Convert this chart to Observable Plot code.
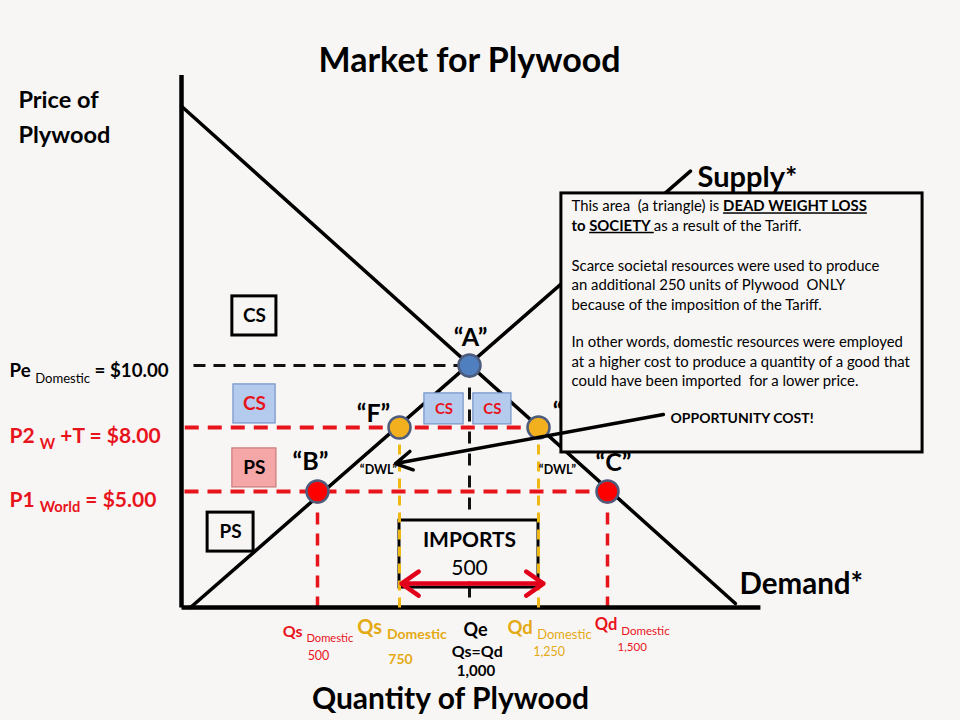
<!DOCTYPE html>
<html><head><meta charset="utf-8">
<script src="https://cdn.jsdelivr.net/npm/d3@7"></script>
<script src="https://cdn.jsdelivr.net/npm/@observablehq/plot@0.6"></script>
<style>
html,body{margin:0;padding:0;background:#f8f6f5;}
#chart svg{display:block;}
#chart text{white-space:pre;}
</style></head><body><div id="chart"></div>
<script>
// ---------------- data (quantity of plywood, price in $) ----------------
const quantityDomain = [0, 500, 750, 1000, 1250, 1500, 2000];
const priceDomain = [0, 5, 8, 10, 20];

const demandCurve = [{q: 0, p: 20.8}, {q: 1944, p: 0.17}];
const supplyCurve = [{q: 33, p: 0}, {q: 1788, p: 18.1}];
const axisQMax = 2031;
const axisPMax = 22.1;

const pointNames = ["A", "F", "G", "B", "C"];
const pointQty = [1000, 750, 1250, 500, 1500];
const pointPrice = [10, 8, 8, 5, 5];
const pointKind = ["eq", "tariff", "tariff", "world", "world"];

const priceLevels = [10, 8, 5];
const priceLevelText = ["Pe [s][n]Domestic[/n][/s] = $10.00", "P2 [s]W[/s] +T = $8.00", "P1 [s]World[/s] = $5.00"];
const priceLineFrom = [44, 12, 11];
const priceLineTo = [1000, 1250, 1500];

const qtyValues = [500, 750, 1000, 1250, 1500];
const qtyTopPrice = [5, 8, 10, 8, 5];
const qtyNames = ["Qs [s][n]Domestic[/n][/s]", "Qs [s]Domestic[/s]", "Qe", "Qd [s][n]Domestic[/n][/s]", "Qd [s][n]Domestic[/n][/s]"];
const qtyNumbers = ["500", "750", "Qs=Qd", "1,250", "1,500"];
const qeExtra = "1,000";

const boxText = ["CS", "CS", "PS", "PS", "CS", "CS"];
const boxKind = ["plain", "blue", "pink", "plain", "blue", "blue"];
const boxQ1 = [187, 191, 187, 96, 839, 1014];
const boxQ2 = [349, 346, 349, 265, 979, 1152];
const boxP1 = [11.25, 8.13, 5.19, 2.41, 8.10, 8.10];
const boxP2 = [12.88, 9.39, 7.02, 4.09, 9.10, 9.10];

const importsQ = [750, 1250];
const importsP = [0.86, 3.75];
const importsArrowP = 1.03;
const importsArrowQ = [757, 1268];
const importsText = ["IMPORTS", "500"];
const importsTextP = [2.89, 1.68];

const noteQ = [1333, 2594];
const noteP = [6.83, 17.17];
const noteLines = [
  "This area  (a triangle) is [b][u]DEAD WEIGHT LOSS[/u][/b]",
  "[b]to [u]SOCIETY [/u][/b]as a result of the Tariff.",
  "Scarce societal resources were used to produce",
  "an additional 250 units of Plywood  ONLY",
  "because of the imposition of the Tariff.",
  "In other words, domestic resources were employed",
  "at a higher cost to produce a quantity of a good that",
  "could have been imported  for a lower price."
];
const noteArrow = {q1: 1694, p1: 8.42, q2: 738, p2: 6.31};

// ---------------- styling ----------------
const FONT = "Lato, 'Open Sans', sans-serif";
const RED = "#e8141c", GOLD = "#efb814", GOLDTXT = "#e4aa14", BG = "#f8f6f5";
const dotFill = {eq: "#4f7fbe", tariff: "#f2b01e", world: "#ff0000"};
const boxFill = {plain: BG, blue: "#b5cbee", pink: "#f4a7a6"};
const boxStroke = {plain: "#000", blue: "#7394c8", pink: "#c97a7a"};

const points = pointNames.map((n, i) => ({name: n, q: pointQty[i], p: pointPrice[i], kind: pointKind[i]}));
const boxes = boxText.map((t, i) => ({t, kind: boxKind[i], q1: boxQ1[i], q2: boxQ2[i], p1: boxP1[i], p2: boxP2[i]}));
const priceRows = priceLevels.map((p, i) => ({p, text: priceLevelText[i], from: priceLineFrom[i], to: priceLineTo[i]}));
const qtyRows = qtyValues.map((q, i) => ({q, top: qtyTopPrice[i], name: qtyNames[i], num: qtyNumbers[i]}));

const pt = (text, x, y, o = {}) =>
  Plot.text([text], {text: d => d, frameAnchor: "top-left", dx: x, dy: y, textAnchor: "middle", lineAnchor: "middle",
    fontFamily: FONT, fill: "#000", ...o});

const labelStyle = [
  {c: RED, f1: 16, w1: "bold", dx1: 0.5, y1: 631.6, f2: 12.5, w2: "normal", dx2: 1, y2: 655.3},
  {c: GOLDTXT, f1: 20, w1: "bold", dx1: 2.5, y1: 627, f2: 14, w2: "bold", dx2: 1, y2: 658.8},
  {c: "#000", f1: 18, w1: "bold", dx1: 6, y1: 630, f2: 16, w2: "bold", dx2: 7.7, y2: 651.5},
  {c: GOLDTXT, f1: 18.5, w1: "bold", dx1: 11, y1: 627.3, f2: 12.5, w2: "normal", dx2: 10.7, y2: 651.2},
  {c: RED, f1: 16.5, w1: "bold", dx1: 24.7, y1: 624.7, f2: 11.5, w2: "normal", dx2: 24.7, y2: 647.2}
];
const priceStyle = [
  {c: "#000", f: 18.7, dy: 6},
  {c: RED, f: 21, dy: 9},
  {c: RED, f: 21, dy: 8.5}
];
const pointLabelOff = [[1, -28], [-26, -14], [33, -16], [-7, -30], [6, -29]];
const dwlOff = {F: [-21, 42], G: [19, 42]};
const noteLineY = [206, 225.5, 265.5, 285, 304.5, 342, 361.5, 380.5];

const marks = [
  // dashed price levels
  ...priceRows.map((r, i) => Plot.link([r], {x1: "from", x2: "to", y1: "p", y2: "p",
    stroke: i === 0 ? "#111" : RED, strokeWidth: i === 0 ? 3 : 4, strokeDasharray: i === 0 ? "12,8" : "14,9"})),
  // vertical dashed quantity guides
  Plot.link(qtyRows.filter(r => r.q === 1000), {x1: "q", x2: "q", y1: "top", y2: 0, stroke: "#111", strokeWidth: 3, strokeDasharray: "12,10"}),
  Plot.link(qtyRows.filter(r => r.q === 500 || r.q === 1500), {x1: "q", x2: "q", y1: "top", y2: 0, stroke: RED, strokeWidth: 3.5, strokeDasharray: "12,9"}),
  // axes
  Plot.link([{q: 0, p0: 0, p1: axisPMax}], {x1: "q", x2: "q", y1: "p0", y2: "p1", stroke: "#000", strokeWidth: 4.5}),
  Plot.link([{p: 0, q0: 0, q1: axisQMax}], {x1: "q0", x2: "q1", y1: "p", y2: "p", stroke: "#000", strokeWidth: 4.5}),
  // demand and supply
  Plot.line(demandCurve, {x: "q", y: "p", stroke: "#000", strokeWidth: 3.5}),
  Plot.line(supplyCurve, {x: "q", y: "p", stroke: "#000", strokeWidth: 3.5}),
  // surplus boxes
  Plot.rect(boxes, {x1: "q1", x2: "q2", y1: "p1", y2: "p2", fill: d => boxFill[d.kind], stroke: d => boxStroke[d.kind],
    strokeWidth: d => d.kind === "plain" ? 3 : 1.2}),
  Plot.text(boxes.filter(d => d.q2 - d.q1 > 150), {x: d => (d.q1 + d.q2) / 2, y: d => (d.p1 + d.p2) / 2, text: "t",
    fill: d => d.kind === "blue" ? RED : "#000", fontSize: 19, fontWeight: "bold", fontFamily: FONT}),
  Plot.text(boxes.filter(d => d.q2 - d.q1 <= 150), {x: d => (d.q1 + d.q2) / 2, y: d => (d.p1 + d.p2) / 2, text: "t",
    fill: RED, fontSize: 15, fontWeight: "bold", fontFamily: FONT}),
  // imports box
  Plot.rect([{q1: importsQ[0], q2: importsQ[1], p1: importsP[0], p2: importsP[1]}], {x1: "q1", x2: "q2", y1: "p1", y2: "p2", fill: BG, stroke: "#000", strokeWidth: 3}),
  Plot.text([importsText[0]], {x: 1000, y: importsTextP[0], text: d => d, fontSize: 21, fontWeight: "bold", fontFamily: FONT}),
  Plot.text([importsText[1]], {x: 1000, y: importsTextP[1], text: d => d, fontSize: 21, fontFamily: FONT}),
  // gold verticals (drawn over imports box sides)
  Plot.link(qtyRows.filter(r => r.q === 750 || r.q === 1250), {x1: "q", x2: "q", y1: "top", y2: 0, stroke: GOLD, strokeWidth: 3, strokeDasharray: "10,7"}),
  // imports arrows
  Plot.arrow(importsArrowQ.map(q => ({q})), {x1: 1000, x2: "q", y1: importsArrowP, y2: importsArrowP, stroke: "#e3001b", strokeWidth: 4.5, headLength: 7, headAngle: 70}),
  // points
  Plot.dot(points, {x: "q", y: "p", r: 11, fill: d => dotFill[d.kind], stroke: "#4d5b7c", strokeWidth: 2.5}),
  // point labels
  ...points.map((d, i) => Plot.text([d], {x: "q", y: "p", text: d => `“${d.name}”`, dx: pointLabelOff[i][0], dy: pointLabelOff[i][1],
    fontSize: 25, fontWeight: "bold", fontFamily: FONT})),
  ...points.filter(d => d.kind === "tariff").map(d => Plot.text([d], {x: "q", y: "p", text: () => "“DWL”",
    dx: dwlOff[d.name][0], dy: dwlOff[d.name][1], fontSize: 12.5, fontWeight: "bold", fontFamily: FONT})),
  // price labels
  ...priceRows.map((r, i) => Plot.text([r], {y: "p", text: "text", frameAnchor: "left", dx: 9, dy: priceStyle[i].dy, textAnchor: "start", lineAnchor: "middle",
    fill: priceStyle[i].c, fontSize: priceStyle[i].f, fontWeight: "bold", fontFamily: FONT})),
  // quantity labels
  ...qtyRows.flatMap((r, i) => {
    const s = labelStyle[i];
    return [
      Plot.text([r], {x: "q", text: "name", frameAnchor: "top", lineAnchor: "middle", textAnchor: "middle", dx: s.dx1, dy: s.y1, fill: s.c, fontSize: s.f1, fontWeight: s.w1, fontFamily: FONT}),
      Plot.text([r], {x: "q", text: "num", frameAnchor: "top", lineAnchor: "middle", textAnchor: "middle", dx: s.dx2, dy: s.y2, fill: s.c, fontSize: s.f2, fontWeight: s.w2, fontFamily: FONT})
    ];
  }),
  Plot.text([{q: 1000, t: qeExtra}], {x: "q", text: "t", frameAnchor: "top", lineAnchor: "middle", textAnchor: "middle", dx: 6.5, dy: 671, fontSize: 15, fontWeight: "bold", fontFamily: FONT}),
  // explanatory note box
  Plot.rect([{q1: noteQ[0], q2: noteQ[1], p1: noteP[0], p2: noteP[1]}], {x1: "q1", x2: "q2", y1: "p1", y2: "p2", fill: BG, stroke: "#000", strokeWidth: 3}),
  ...noteLines.map((t, i) => pt(t, 571, noteLineY[i], {textAnchor: "start", fontSize: 14.9})),
  pt("OPPORTUNITY COST!", 670, 418, {textAnchor: "start", fontSize: 14, fontWeight: "bold"}),
  Plot.arrow([noteArrow], {x1: "q1", y1: "p1", x2: "q2", y2: "p2", stroke: "#000", strokeWidth: 3.5, headLength: 8, headAngle: 60}),
  // titles
  pt("Market for Plywood", 469, 61, {fontSize: 34, fontWeight: "bold"}),
  pt("Price of", 18, 100, {textAnchor: "start", fontSize: 23.5, fontWeight: "bold"}),
  pt("Plywood", 18, 134.5, {textAnchor: "start", fontSize: 23.5, fontWeight: "bold"}),
  pt("Quantity of Plywood", 450, 699, {fontSize: 30, fontWeight: "bold"}),
  pt("Supply*", 697, 177, {textAnchor: "start", fontSize: 29, fontWeight: "bold"}),
  pt("Demand*", 739, 584, {textAnchor: "start", fontSize: 29.5, fontWeight: "bold"})
];

const chart = Plot.plot({
  width: 960, height: 720, margin: 0,
  x: {type: "linear", domain: quantityDomain, range: [181, 317, 399, 469, 538, 607, 751], axis: null},
  y: {type: "linear", domain: priceDomain, range: [607, 491, 427, 365, 125], axis: null},
  color: {type: "identity"},
  style: {background: BG, fontFamily: FONT, overflow: "visible"},
  marks
});

// rich-text markup: [b] bold, [n] normal weight, [u] underline, [s] subscript
function rich(root) {
  const NS = "http://www.w3.org/2000/svg";
  root.querySelectorAll("text").forEach(t => {
    const targets = t.querySelector("tspan") ? [...t.querySelectorAll("tspan")] : [t];
    for (const el of targets) {
      const s = el.textContent;
      if (!s.includes("[")) continue;
      el.textContent = "";
      const st = {b: 0, n: 0, u: 0, s: 0};
      let shifted = false;
      for (const tok of s.split(/(\[\/?[bnus]\])/)) {
        const m = tok.match(/^\[(\/?)([bnus])\]$/);
        if (m) { st[m[2]] += m[1] ? -1 : 1; continue; }
        if (!tok) continue;
        const ts = document.createElementNS(NS, "tspan");
        ts.textContent = tok;
        if (st.b) ts.setAttribute("font-weight", "bold");
        if (st.n) ts.setAttribute("font-weight", "normal");
        if (st.u) ts.setAttribute("text-decoration", "underline");
        if (st.s) {
          ts.setAttribute("font-size", "0.7em");
          if (!shifted) { ts.setAttribute("dy", "0.39em"); shifted = true; }
        } else if (shifted) { ts.setAttribute("dy", "-0.273em"); shifted = false; }
        el.appendChild(ts);
      }
    }
  });
}
rich(chart);
document.getElementById("chart").append(chart);
</script></body></html>
